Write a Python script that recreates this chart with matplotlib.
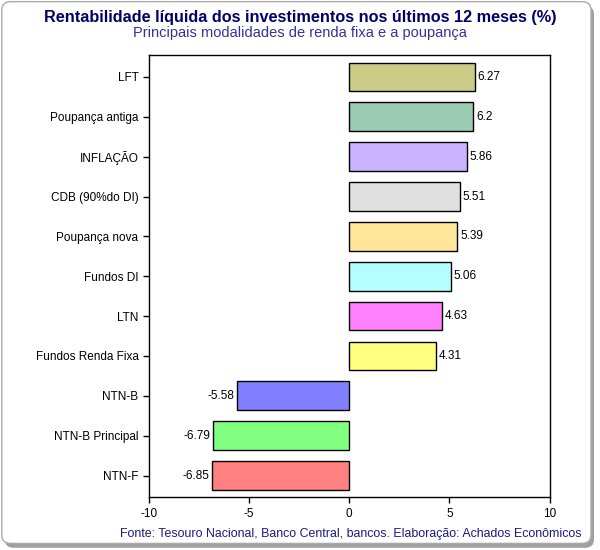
import matplotlib.pyplot as plt
from matplotlib.patches import FancyBboxPatch

plt.rcParams['font.family'] = ['Liberation Sans', 'DejaVu Sans']

categories = ["LFT", "Poupança antiga", "INFLAÇÃO", "CDB (90%do DI)", "Poupança nova",
              "Fundos DI", "LTN", "Fundos Renda Fixa", "NTN-B", "NTN-B Principal", "NTN-F"]
values = [6.27, 6.2, 5.86, 5.51, 5.39, 5.06, 4.63, 4.31, -5.58, -6.79, -6.85]
labels = ["6.27", "6.2", "5.86", "5.51", "5.39", "5.06", "4.63", "4.31", "-5.58", "-6.79", "-6.85"]
colors = ["#cccc88", "#99ccb3", "#ccb3ff", "#e0e0e0", "#ffe699", "#b3ffff",
          "#ff80ff", "#ffff80", "#8080ff", "#80ff80", "#ff8080"]

fig = plt.figure(figsize=(6, 5.5), dpi=100)

# rounded frame with shadow
shadow = FancyBboxPatch((0.008, 0.004), 0.982, 0.985, boxstyle="round,pad=0,rounding_size=0.015",
                        transform=fig.transFigure, facecolor="#a0a0a0", edgecolor="none", zorder=0)
frame = FancyBboxPatch((0.003, 0.012), 0.982, 0.985, boxstyle="round,pad=0,rounding_size=0.015",
                       transform=fig.transFigure, facecolor="white", edgecolor="#aaaaaa",
                       linewidth=1, zorder=1)
fig.patches.extend([shadow, frame])

ax = fig.add_axes([0.248, 0.0955, 0.668, 0.8045])
ax.set_facecolor("white")
ax.set_zorder(2)

y = list(range(len(categories)))
ax.barh(y, values, height=0.72, color=colors, edgecolor="black", linewidth=1)
for yi, v, lab in zip(y, values, labels):
    if v >= 0:
        ax.text(v + 0.15, yi, lab, va="center", ha="left", fontsize=8.5)
    else:
        ax.text(v - 0.15, yi, lab, va="center", ha="right", fontsize=8.5)

ax.set_xlim(-10, 10)
ax.set_ylim(len(categories) - 0.5 + 0.05, -0.5 - 0.05)
ax.set_yticks(y)
ax.set_yticklabels(categories, fontsize=8.5)
ax.set_xticks([-10, -5, 0, 5, 10])
ax.set_xticklabels(["-10", "-5", "0", "5", "10"], fontsize=8.5)
ax.tick_params(direction="out", length=4, width=1, top=False, right=False)
for s in ax.spines.values():
    s.set_linewidth(1)

fig.text(0.5, 0.969, "Rentabilidade líquida dos investimentos nos últimos 12 meses (%)",
         ha="center", va="center", fontsize=11.7, fontweight="bold", color="#000066")
fig.text(0.5, 0.940, "Principais modalidades de renda fixa e a poupança",
         ha="center", va="center", fontsize=10.5, color="#333399")
fig.text(0.97, 0.030, "Fonte: Tesouro Nacional, Banco Central, bancos. Elaboração: Achados Econômicos",
         ha="right", va="center", fontsize=8.9, color="#1a1a80")

fig.savefig("out.png", dpi=100)
